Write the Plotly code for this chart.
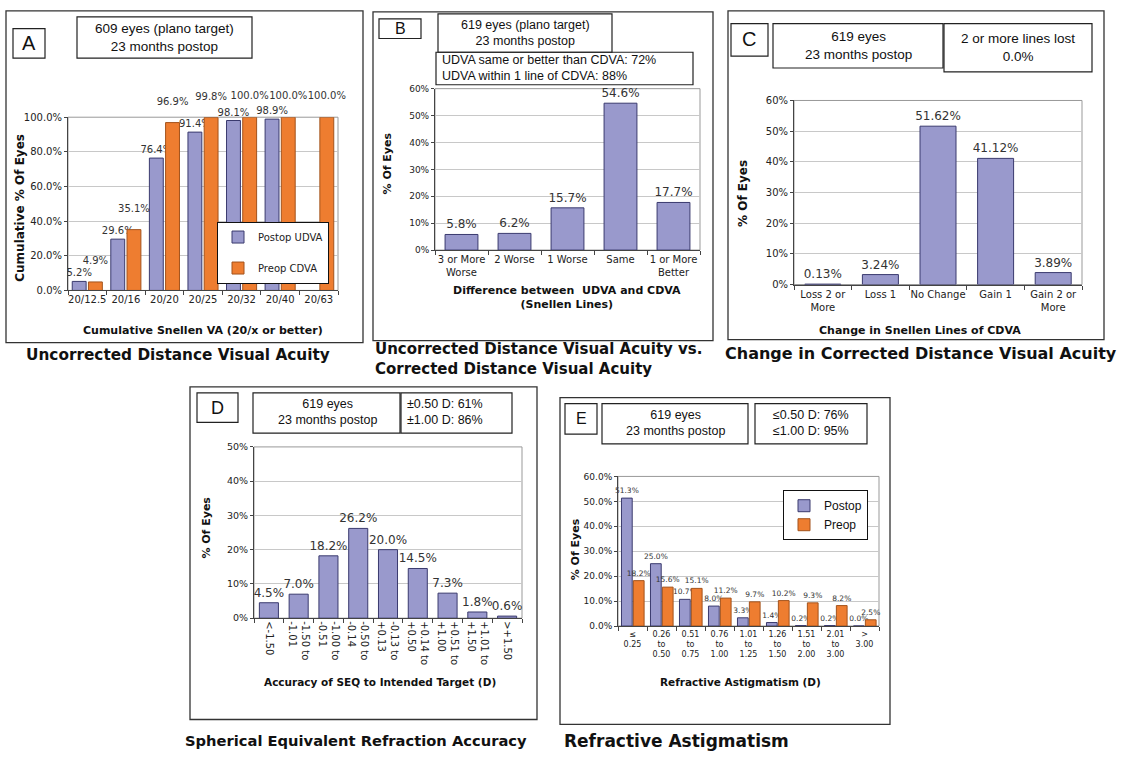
import plotly.graph_objects as go

W, H = 1125, 758
VERD = "DejaVu Sans"
ARIAL = "Liberation Sans"
LAV = "#9999CC"
LAV_LINE = "#3A3A6E"
ORG = "#EE7D30"
ORG_LINE = "#A3531C"

# ---------------- data ----------------
a_cats = ["20/12.5", "20/16", "20/20", "20/25", "20/32", "20/40", "20/63"]
a_postop = [5.2, 29.6, 76.4, 91.4, 98.1, 98.9, None]
a_preop = [4.9, 35.1, 96.9, 99.8, 100.0, 100.0, 100.0]

b_cats = ["3 or More<br>Worse", "2 Worse", "1 Worse", "Same", "1 or More<br>Better"]
b_vals = [5.8, 6.2, 15.7, 54.6, 17.7]

c_cats = ["Loss 2 or<br>More", "Loss 1", "No Change", "Gain 1", "Gain 2 or<br>More"]
c_vals = [0.13, 3.24, 51.62, 41.12, 3.89]

d_cats = ["<-1.50", "-1.50 to<br>-1.01", "-1.00 to<br>-0.51", "-0.50 to<br>-0.14",
          "-0.13 to<br>+0.13", "+0.14 to<br>+0.50", "+0.51 to<br>+1.00",
          "+1.01 to<br>+1.50", ">+1.50"]
d_vals = [4.5, 7.0, 18.2, 26.2, 20.0, 14.5, 7.3, 1.8, 0.6]

e_cats = ["≤<br>0.25", "0.26<br>to<br>0.50", "0.51<br>to<br>0.75", "0.76<br>to<br>1.00",
          "1.01<br>to<br>1.25", "1.26<br>to<br>1.50", "1.51<br>to<br>2.00",
          "2.01<br>to<br>3.00", "><br>3.00"]
e_postop = [51.3, 25.0, 10.7, 8.0, 3.3, 1.4, 0.2, 0.2, 0.0]
e_preop = [18.2, 15.6, 15.1, 11.2, 9.7, 10.2, 9.3, 8.2, 2.5]


def fx(x):
    return x / W


def fy(y):
    return 1 - y / H


fig = go.Figure()


def bar(x, y, xa, ya, color, line, width, offset, fsize, fmt, name=None, legend=None, group=None):
    labels = [None if v is None else (fmt % v) for v in y]
    fig.add_trace(go.Bar(
        x=x, y=y, xaxis=xa, yaxis=ya, width=width, offset=offset,
        marker=dict(color=color, line=dict(color=line, width=1)),
        text=labels, textposition="outside", cliponaxis=False,
        constraintext="none", textangle=0,
        textfont=dict(family=VERD, size=fsize, color="#333333"),
        name=name or "", showlegend=legend is not None,
        legend=legend or "legend", legendgroup=group,
    ))


# Panel A
bar(a_cats, a_postop, "x", "y", LAV, LAV_LINE, 0.36, -0.39, 10, "%.1f%%", "Postop UDVA", "legend", "a1")
bar(a_cats, a_preop, "x", "y", ORG, ORG_LINE, 0.36, 0.03, 10, "%.1f%%<br> ", "Preop CDVA", "legend", "a2")
# Panel B
bar(b_cats, b_vals, "x2", "y2", LAV, LAV_LINE, 0.62, -0.31, 12, "%.1f%%")
# Panel C
bar(c_cats, c_vals, "x3", "y3", LAV, LAV_LINE, 0.625, -0.3125, 12, "%.2f%%")
# Panel D
bar(d_cats, d_vals, "x4", "y4", LAV, LAV_LINE, 0.64, -0.32, 12, "%.1f%%")
# Panel E
bar(e_cats, e_postop, "x5", "y5", LAV, LAV_LINE, 0.37, -0.38, 7.5, "%.1f%%", "Postop", "legend2", "e1")
bar(e_cats, e_preop, "x5", "y5", ORG, ORG_LINE, 0.37, 0.03, 7.5, "%.1f%%", "Preop", "legend2", "e2")

# plot areas: (left, right, top, bottom) in pixels
areas = {
    1: (68, 338, 113, 289, [0, 100], 20, ".1f", 10, 10),
    2: (435, 700, 84, 248, [0, 60], 10, ".0f", 9, 10),
    3: (794, 1082, 96, 283, [0, 60], 10, ".0f", 10, 10),
    4: (254, 522, 448, 622, [0, 50], 10, ".0f", 9.5, 10),
    5: (618, 879, 478, 630, [0, 60], 10, ".1f", 9, 8),
}

layout = dict(
    width=W, height=H, margin=dict(l=0, r=0, t=0, b=0),
    paper_bgcolor="white", plot_bgcolor="white",
    barmode="overlay", showlegend=True,
)
shapes = []
for i, (l, r, t, b, rng, dt, fmt, yfs, xfs) in areas.items():
    sx = "" if i == 1 else str(i)
    layout["xaxis" + sx] = dict(
        domain=[fx(l), fx(r)], anchor="y" + sx, type="category",
        showline=True, linecolor="#444444", linewidth=1,
        ticks="outside", tickson="boundaries", ticklen=4, tickcolor="#444444",
        tickfont=dict(family=VERD, size=xfs, color="#222222"),
        tickangle=90 if i == 4 else 0, showgrid=False, fixedrange=True,
    )
    layout["yaxis" + sx] = dict(
        domain=[fy(b), fy(t)], anchor="x" + sx, range=rng, dtick=dt,
        tickformat=fmt, ticksuffix="%",
        showline=True, linecolor="#444444", linewidth=1,
        ticks="outside", ticklen=3, tickcolor="#444444",
        showgrid=True, gridcolor="#C8C8C8", gridwidth=1, zeroline=False,
        tickfont=dict(family=VERD, size=yfs, color="#222222"), fixedrange=True,
    )
    shapes.append(dict(type="rect", xref="x" + sx + " domain", yref="y" + sx + " domain",
                       x0=0, x1=1, y0=0, y1=1, line=dict(color="#999999", width=1),
                       layer="below"))


def rect(x0, y0, x1, y1, w=1.2, color="#222222"):
    shapes.append(dict(type="rect", xref="paper", yref="paper",
                       x0=fx(x0), x1=fx(x1), y0=fy(y1), y1=fy(y0),
                       line=dict(color=color, width=w)))


# outer panel frames
rect(6, 5, 363, 342, 1.3, "#333333")
rect(373, 6, 713, 340, 1.3, "#333333")
rect(728, 5, 1104, 339, 1.3, "#333333")
rect(190, 387, 537, 725, 1.3, "#333333")
rect(560, 398, 890, 730, 1.3, "#333333")
# letter boxes and info boxes
rect(13, 23, 45, 53); rect(77, 11, 252, 53)
rect(379, 13, 421, 33); rect(438, 8, 612, 47); rect(436, 47, 693, 80)
rect(731, 18, 768, 51); rect(773, 18, 943, 63); rect(944, 18, 1092, 67)
rect(197, 393, 238, 423); rect(253, 393, 400, 434); rect(401, 393, 512, 434)
rect(565, 404, 597, 435); rect(602, 404, 748, 445); rect(755, 404, 867, 445)
layout["shapes"] = shapes

annotations = []


def ann(text, x, y, size, family=ARIAL, bold=False, xanchor="center", angle=0, align="center"):
    annotations.append(dict(
        text=("<b>%s</b>" % text) if bold else text, x=fx(x), y=fy(y),
        xref="paper", yref="paper", xanchor=xanchor, yanchor="middle",
        showarrow=False, textangle=angle, align=align,
        font=dict(family=family, size=size, color="#111111"),
    ))


# Panel A texts
ann("A", 29, 38, 20)
ann("609 eyes (plano target)<br>23 months postop", 164, 32, 13.5)
ann("Cumulative % Of Eyes", 20, 205, 12, VERD, True, angle=-90)
ann("Cumulative Snellen VA (20/x or better)", 203, 330, 11, VERD, True)
ann("Uncorrected Distance Visual Acuity", 178, 355, 15.3, VERD, True)
# Panel B texts
ann("B", 400, 23, 16)
ann("619 eyes (plano target)<br>23 months postop", 525, 27, 12.5)
ann("UDVA same or better than CDVA: 72%<br>UDVA within 1 line of CDVA: 88%", 440, 63, 12.5,
    xanchor="left", align="left")
ann("% Of Eyes", 387, 160, 11, VERD, True, angle=-90)
ann("Difference between  UDVA and CDVA<br>(Snellen Lines)", 567, 296, 11, VERD, True)
ann("Uncorrected Distance Visual Acuity vs.<br>Corrected Distance Visual Acuity", 373, 359, 15,
    VERD, True, xanchor="left", align="left")
# Panel C texts
ann("C", 749, 34, 20)
ann("619 eyes<br>23 months postop", 858, 40, 13.5)
ann("2 or more lines lost<br>0.0%", 1018, 42, 13.5)
ann("% Of Eyes", 743, 190, 12, VERD, True, angle=-90)
ann("Change in Snellen Lines of CDVA", 920, 330, 11, VERD, True)
ann("Change in Corrected Distance Visual Acuity", 921, 353, 16, VERD, True)
# Panel D texts
ann("D", 217, 408, 18)
ann("619 eyes<br>23 months postop", 327, 413, 12.5)
ann("±0.50 D: 61%<br>±1.00 D: 86%", 405, 413, 12.5, xanchor="left", align="left")
ann("% Of Eyes", 207, 530, 11, VERD, True, angle=-90)
ann("Accuracy of SEQ to Intended Target (D)", 380, 687, 10.5, VERD, True)
ann("Spherical Equivalent Refraction Accuracy", 356, 746, 14.7, VERD, True)
# Panel E texts
ann("E", 581, 419, 16)
ann("619 eyes<br>23 months postop", 675, 424, 12.5)
ann("≤0.50 D: 76%<br>≤1.00 D: 95%", 811, 424, 12.5)
ann("% Of Eyes", 575, 552, 11, VERD, True, angle=-90)
ann("Refractive Astigmatism (D)", 740, 687, 10.5, VERD, True)
ann("Refractive Astigmatism", 562, 747, 17, VERD, True, xanchor="left")
layout["annotations"] = annotations

layout["legend"] = dict(
    x=fx(217), y=fy(219), xanchor="left", yanchor="top", bgcolor="white",
    bordercolor="#111111", borderwidth=1, font=dict(family=VERD, size=10, color="#222222"),
    traceorder="grouped", tracegroupgap=12, itemwidth=30,
)
layout["legend2"] = dict(
    x=fx(783), y=fy(492), xanchor="left", yanchor="top", bgcolor="white",
    bordercolor="#111111", borderwidth=1, font=dict(family=ARIAL, size=12, color="#111111"),
    traceorder="grouped", tracegroupgap=0, itemwidth=30,
)

fig.update_layout(**layout)
fig.write_html("out.html")
